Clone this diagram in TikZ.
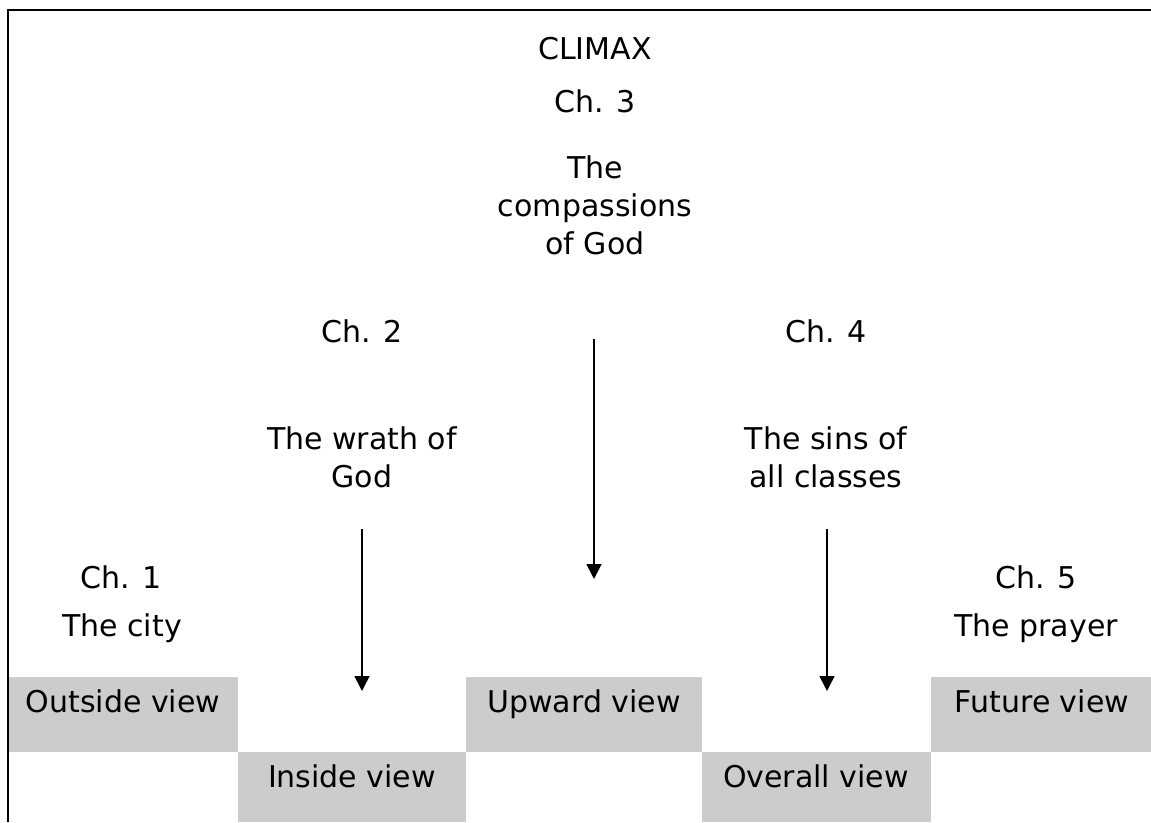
\documentclass[tikz,border=0pt]{standalone}
\usepackage{fontspec}
\setmainfont{DejaVu Sans}
\usetikzlibrary{arrows.meta}
\definecolor{boxgray}{HTML}{CCCCCC}
\begin{document}
\begin{tikzpicture}[x=1pt,y=-1pt,
  lbl/.style={anchor=base,inner sep=0pt,font=\fontsize{30}{38}\selectfont,align=center},
  viewbox/.style={fill=boxgray,draw=none},
  arr/.style={line width=1.6pt,-{Triangle[width=15pt,length=15pt]}},
  frameline/.style={line width=2.8pt}]
\useasboundingbox (0,0) rectangle (1151,822);
% grey view boxes
\path[viewbox] (8,677) rectangle (238,752);
\path[viewbox] (238,752) rectangle (466,822);
\path[viewbox] (466,677) rectangle (702,752);
\path[viewbox] (702,752) rectangle (931,822);
\path[viewbox] (931,677) rectangle (1151,752);
% frame
\draw[frameline] (8,822) -- (8,10) -- (1151,10);
% column 3 (multi-line labels: base = baseline of last line)
\node[lbl] (climax) at (595,59) {CLIMAX};
\node[lbl] (ch3) at (595,112) {Ch. 3};
\node[lbl] (t3) at (595,254) {The\\compassions\\of God};
% column 2
\node[lbl] (ch2) at (362,342) {Ch. 2};
\node[lbl] (t2) at (362,487) {The wrath of\\God};
% column 4
\node[lbl] (ch4) at (826,342) {Ch. 4};
\node[lbl] (t4) at (826,487) {The sins of\\all classes};
% column 1
\node[lbl] (ch1) at (121,588) {Ch. 1};
\node[lbl] (t1) at (122,636) {The city};
% column 5
\node[lbl] (ch5) at (1036,588) {Ch. 5};
\node[lbl] (t5) at (1036,636) {The prayer};
% views
\node[lbl] (outside) at (123,712) {Outside view};
\node[lbl] (upward) at (584,712) {Upward view};
\node[lbl] (future) at (1042,712) {Future view};
\node[lbl] (inside) at (352,787) {Inside view};
\node[lbl] (overall) at (816,787) {Overall view};
% arrows
\coordinate (a2s) at (362,529); \coordinate (a2e) at (362,691);
\coordinate (a3s) at (594,339); \coordinate (a3e) at (594,579);
\coordinate (a4s) at (827,529); \coordinate (a4e) at (827,691);
\draw[arr] (a2s) -- (a2e);
\draw[arr] (a3s) -- (a3e);
\draw[arr] (a4s) -- (a4e);
\end{tikzpicture}
\end{document}
